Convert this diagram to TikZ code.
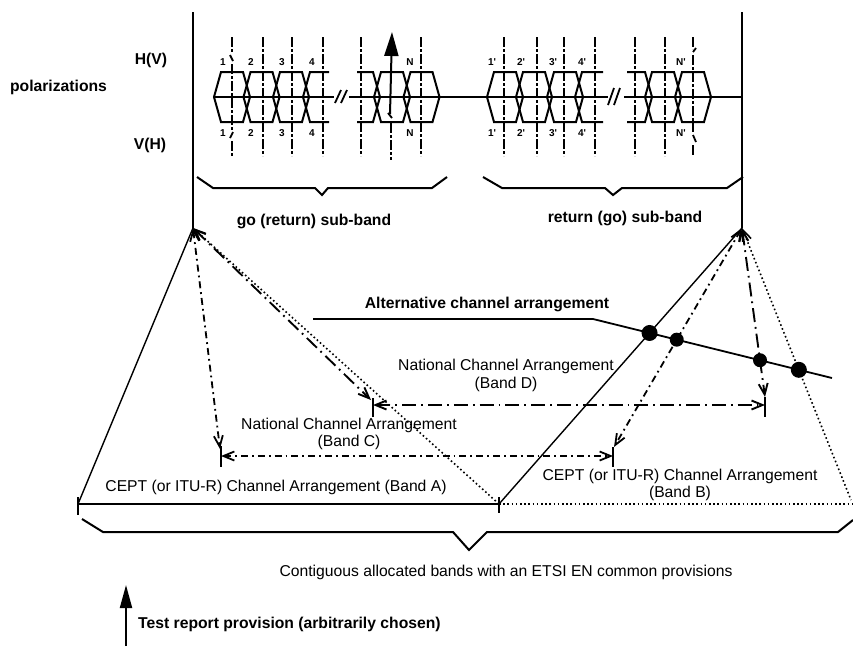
\documentclass[tikz,border=0pt]{standalone}
\usepackage{fontspec}
\setmainfont{Liberation Sans}
\usetikzlibrary{arrows.meta,intersections}
\begin{document}
\begin{tikzpicture}[x=1pt,y=-1pt,
  txt/.style={inner sep=0pt, font=\fontsize{15.7}{17.6}\selectfont, align=center},
  btxt/.style={inner sep=0pt, font=\fontsize{15.7}{17.6}\selectfont\bfseries, align=center},
  lbl/.style={inner sep=0pt, font=\fontsize{10}{12}\selectfont\bfseries},
  mainline/.style={line width=2pt},
  hexl/.style={line width=2pt, line join=miter},
  chan/.style={line width=1.9pt, dash pattern=on 10pt off 2pt on 3pt off 2pt},
  thinl/.style={line width=1.4pt},
  dashC/.style={line width=1.8pt, dash pattern=on 7pt off 4pt on 1.8pt off 4pt},
  dashD/.style={line width=1.9pt, dash pattern=on 14pt off 5pt on 1.8pt off 5pt},
  dotl/.style={line width=1.6pt, dash pattern=on 1.6pt off 2.6pt},
  twotip/.style={{Straight Barb[length=11pt,width=9pt]}-{Straight Barb[length=11pt,width=9pt]}},
  onetip/.style={{Straight Barb[length=11pt,width=9pt]}-},
  tick/.style={line width=1.8pt},
  dot/.style={fill=black}
]
\useasboundingbox (0,0) rectangle (853,646);

% ---------- main vertical lines and centre line ----------
\coordinate (LT) at (193,12);
\coordinate (LA) at (193,228);
\coordinate (RT) at (742,12);
\coordinate (RA) at (742,228);
\draw[mainline] (LT) -- (LA);
\draw[mainline] (RT) -- (RA);
\coordinate (H0) at (213,97);
\coordinate (H1) at (334,97);
\coordinate (H2) at (349,97);
\coordinate (H3) at (608,97);
\coordinate (H4) at (624,97);
\coordinate (H5) at (742,97);
\draw[hexl] (H0) -- (H1);
\draw[hexl] (H2) -- (H3);
\draw[hexl] (H4) -- (H5);
% break marks
\draw[line width=1.8pt] (335,103) -- (341,90) (341,103) -- (347,90);
\draw[line width=1.8pt] (608,105) -- (614,88) (614,105) -- (620,88);

% ---------- hexagons ----------
\foreach \c in {232,261.5,291,392,421.5,505,534,565,663,693}
  \draw[hexl] (\c-11,72) -- (\c+11,72) -- (\c+18,97) -- (\c+11,122) -- (\c-11,122) -- (\c-18,97) -- cycle;
\draw[hexl] (329,72) -- (310,72) -- (303,97) -- (310,122) -- (329,122);
\draw[hexl] (357,72) -- (373,72) -- (380,97) -- (373,122) -- (357,122);
\draw[hexl] (603,72) -- (582,72) -- (575,97) -- (582,122) -- (603,122);
\draw[hexl] (627,72) -- (645,72) -- (652,97) -- (645,122) -- (627,122);

% ---------- channel centre lines ----------
\foreach \x in {263,292,323,361,421,504,537,564,595,635,665}
  \draw[chan] (\x,37) -- (\x,156);
% channel 1 with breaks
\draw[chan] (232,37) -- (232,53);
\draw[line width=1.8pt] (230,55) -- (233,61);
\draw[chan] (232,64) -- (232,130);
\draw[line width=1.8pt] (233,132) -- (230,138);
\draw[chan] (232,141) -- (232,156);
% channel N' with breaks
\draw[chan] (693,37) -- (693,49);
\draw[line width=1.8pt] (693,52) -- (696,48);
\draw[chan] (693,55) -- (693,132);
\draw[line width=1.8pt] (693,135) -- (696,142);
\draw[chan] (693,145) -- (693,156);
% arrow channel
\coordinate (NA0) at (390,114);
\coordinate (NA1) at (392,32);
\draw[line width=2pt, -{Triangle[length=24pt,width=14pt]}] (NA0) -- (NA1);
\draw[line width=1.8pt] (388,113) -- (392,118);
\draw[chan] (391,123) -- (391,160);

% ---------- channel labels ----------
\foreach \x/\t [count=\i] in {223/1,251/2,282/3,312/4,410/N}{
  \node[lbl] (lt\i) at (\x,62) {\t};
  \node[lbl] (lb\i) at (\x,133) {\t};
}
\foreach \x/\t [count=\i] in {492/1,521/2,553/3,582/4,681/N}{
  \node[lbl] (rt\i) at (\x,62) {\t\textquotesingle};
  \node[lbl] (rb\i) at (\x,133) {\t\textquotesingle};
}

% ---------- polarization labels ----------
\node[btxt] (pol) at (58.5,87) {polarizations};
\node[btxt] (hv) at (151,60) {H(V)};
\node[btxt] (vh) at (150,145) {V(H)};

% ---------- sub-band braces ----------
\draw[mainline, line join=miter] (197,177) -- (213,188) -- (315,188) -- (322,195) -- (328,188) -- (432,188) -- (447,177);
\draw[mainline, line join=miter] (483,177) -- (502,188) -- (605,188) -- (613,195) -- (622,188) -- (727,188) -- (743,177);
\node[btxt] (goband) at (314,221) {go (return) sub-band};
\node[btxt] (retband) at (625,218) {return (go) sub-band};

% ---------- band end points ----------
\coordinate (A1) at (78,504);
\coordinate (A2) at (499,504);
\coordinate (B2) at (853,504);
\coordinate (C1) at (220,449);
\coordinate (C2) at (614,447);
\coordinate (D1) at (371,400);
\coordinate (D2) at (765,397);
\coordinate (CL) at (221,456);
\coordinate (CR) at (613,456);
\coordinate (DL) at (373,405);
\coordinate (DR) at (765,405);
\coordinate (BR) at (851,500);

% band A / band B base lines
\draw[thinl] (A1) -- (A2);
\draw[dotl] (A2) -- (B2);
\draw[tick] (78,497) -- (78,515);
\draw[tick] (499,497) -- (499,513);

% lines from the left apex
\draw[thinl] (LA) -- (A1);
\draw[dashC, twotip] (LA) -- (C1);
\draw[dashD, twotip] (LA) -- (D1);
\draw[dotl, onetip] (LA) -- (A2);

% lines from the right apex
\draw[thinl, name path=sol] (RA) -- (A2);
\draw[dashC, twotip, name path=dc] (RA) -- (C2);
\draw[dashD, twotip, name path=dd] (RA) -- (D2);
\draw[dotl, onetip, name path=dt] (RA) -- (BR);

% band C and band D arrows with end ticks
\draw[dashC, twotip] (CL) -- (CR);
\draw[tick] (221,446) -- (221,467);
\draw[tick] (613,447) -- (613,467);
\draw[dashD, twotip] (DL) -- (DR);
\draw[tick] (373,398) -- (373,417);
\draw[tick] (765,397) -- (765,417);

% alternative channel arrangement
\coordinate (AL0) at (313,319);
\coordinate (AL1) at (593,319);
\coordinate (AL2) at (832,378);
\draw[line width=1.8pt, name path=alt] (AL0) -- (AL1) -- (AL2);
\path[name intersections={of=alt and sol, by=I1}];
\path[name intersections={of=alt and dc, by=I2}];
\path[name intersections={of=alt and dd, by=I3}];
\path[name intersections={of=alt and dt, by=I4}];
\fill[dot] (I1) circle[radius=8pt];
\fill[dot] (I2) circle[radius=7pt];
\fill[dot] (I3) circle[radius=7pt];
\fill[dot] (I4) circle[radius=8pt];
\node[btxt] (alt) at (487,304) {Alternative channel arrangement};

% ---------- band texts ----------
\node[txt] (bandD) at (506,375.5) {National Channel Arrangement\\(Band D)};
\node[txt] (bandC) at (349,434) {National Channel Arrangement\\(Band C)};
\node[txt] (bandA) at (276,487) {CEPT (or ITU-R) Channel Arrangement (Band A)};
\node[txt] (bandB) at (680,485) {CEPT (or ITU-R) Channel Arrangement\\(Band B)};

% ---------- overall brace ----------
\draw[mainline, line join=miter] (82,519) -- (103,532) -- (453,532) -- (469,550) -- (487,532) -- (838,532) -- (853,520);
\node[txt] (contig) at (506,572) {Contiguous allocated bands with an ETSI EN common provisions};

% ---------- test report ----------
\coordinate (T0) at (126,646);
\coordinate (T1) at (126,585);
\draw[line width=2pt, -{Triangle[length=23pt,width=12pt]}] (T0) -- (T1);
\node[btxt, anchor=west] (test) at (138,624) {Test report provision (arbitrarily chosen)};
\end{tikzpicture}
\end{document}
